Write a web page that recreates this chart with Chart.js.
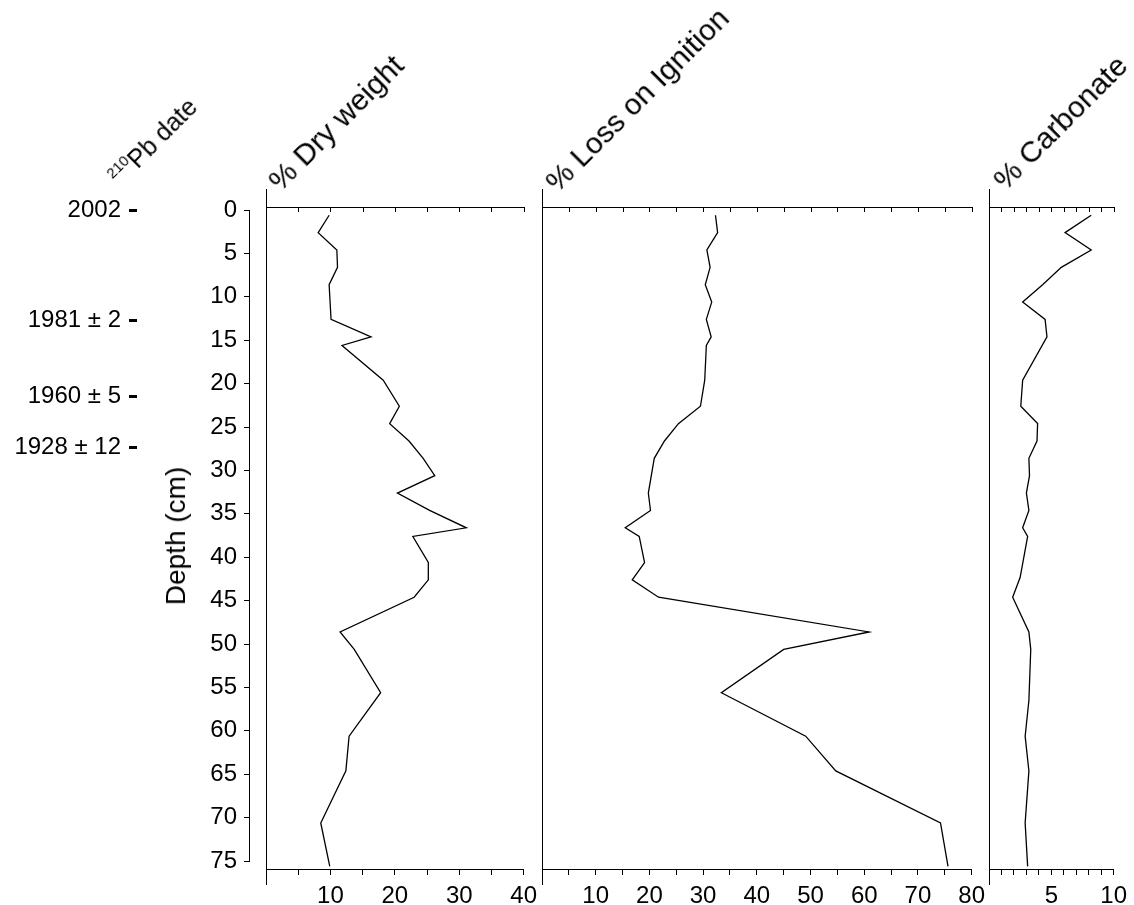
<!DOCTYPE html>
<html>
<head>
<meta charset="utf-8">
<script src="https://cdn.jsdelivr.net/npm/chart.js@4.4.1/dist/chart.umd.min.js"></script>
<style>
  body { margin: 0; width: 1134px; height: 905px; overflow: hidden; background: #fff; position: relative;
         font-family: "Liberation Sans", Arial, sans-serif; color: #000; }
  canvas { position: absolute; }
  .title { position: absolute; white-space: nowrap; font-size: 30px; line-height: 30px; height: 30px;
           transform-origin: 0 100%; transform: rotate(-45deg); }
  .sup { font-size: 15px; position: relative; top: -11px; }
  #depth-title { position: absolute; left: 176px; top: 536px; white-space: nowrap; font-size: 28px;
                 line-height: 28px; transform: translate(-50%, -50%) rotate(-90deg); }
</style>
</head>
<body>
<canvas id="chart-depth" width="260" height="720" style="left:0px;top:180px"></canvas>
<canvas id="chart-dry" width="308" height="726" style="left:236px;top:177px"></canvas>
<canvas id="chart-loi" width="480" height="726" style="left:512px;top:177px"></canvas>
<canvas id="chart-carb" width="175" height="726" style="left:959px;top:177px"></canvas>

<div class="title" style="left:123px;top:165px;font-size:25px;line-height:25px;height:25px"><span class="sup">210</span>Pb date</div>
<div class="title" style="left:284px;top:166px">% Dry weight</div>
<div class="title" style="left:561px;top:167px">% Loss on Ignition</div>
<div class="title" style="left:1009px;top:165px">% Carbonate</div>
<div id="depth-title">Depth (cm)</div>

<script>
// 210Pb dates, placed at their depth (cm)
const dateDepths = [0, 12.7, 21.5, 27.4];
const dateLabels = ["2002", "1981 ± 2", "1960 ± 5", "1928 ± 12"];

// % dry weight
const dryDepth = [0.6, 2.6, 4.6, 6.6, 8.6, 12.6, 14.6, 15.6, 19.6, 22.6, 24.6, 26.6, 28.6, 30.6,
  32.6, 34.6, 36.6, 37.6, 40.6, 42.6, 44.6, 48.6, 50.6, 55.6, 60.6, 64.6, 70.6, 75.6];
const dryWeight = [9.8, 8.1, 11.0, 11.1, 9.8, 10.1, 16.3, 11.8, 18.2, 20.7, 19.2, 22.2, 24.4, 26.2,
  20.4, 25.4, 31.1, 22.8, 25.2, 25.2, 23.0, 11.5, 13.7, 17.8, 12.9, 12.4, 8.5, 9.9];

// % loss on ignition
const loiDepth = [0.6, 2.6, 4.6, 6.6, 8.6, 10.6, 12.6, 14.6, 15.6, 19.6, 22.6, 24.6, 26.6, 28.6,
  32.6, 34.6, 36.6, 37.6, 40.6, 42.6, 44.6, 48.6, 50.6, 55.6, 60.6, 64.6, 70.6, 75.6];
const lossOnIgnition = [32.3, 32.7, 30.7, 31.3, 30.4, 31.6, 30.6, 31.5, 30.6, 30.3, 29.5, 25.4, 22.8, 20.9,
  19.8, 20.2, 15.5, 18.1, 19.1, 16.8, 21.7, 60.9, 45.0, 33.4, 49.1, 54.7, 74.2, 75.6];

// % carbonate
const carbDepth = [0.6, 2.6, 4.6, 6.6, 8.6, 10.6, 12.6, 14.6, 19.6, 22.6, 24.6, 26.6, 28.6, 30.6,
  32.6, 34.6, 36.6, 37.6, 42.3, 44.6, 48.6, 50.6, 56.5, 60.6, 64.6, 70.6, 75.6];
const carbonate = [8.2, 6.1, 8.2, 5.8, 4.3, 2.7, 4.5, 4.65, 2.7, 2.55, 3.9, 3.85, 3.2, 3.25,
  3.0, 3.2, 2.7, 3.1, 2.5, 1.9, 3.2, 3.35, 3.2, 2.9, 3.2, 2.9, 3.1];

Chart.defaults.font.family = "'Liberation Sans', Arial, sans-serif";
Chart.defaults.font.size = 24;
Chart.defaults.color = "#000";

// depth axis + dates on the left
new Chart(document.getElementById("chart-depth"), {
  type: "line",
  data: { datasets: [] },
  options: {
    responsive: false,
    animation: false,
    layout: { padding: { top: 30, bottom: 39, left: 0, right: 10 } },
    plugins: { legend: { display: false }, tooltip: { enabled: false } },
    scales: {
      x: { display: false },
      dates: {
        type: "linear", position: "left", reverse: true, min: 0, max: 75, weight: 1,
        afterFit: (s) => { s.width = 137; },
        afterBuildTicks: (s) => { s.ticks = dateDepths.map((v) => ({ value: v })); },
        ticks: { autoSkip: false, padding: 8, callback: (v, i) => dateLabels[i] },
        grid: { drawOnChartArea: false, tickLength: 8, tickWidth: 3, tickColor: "#000" },
        border: { display: false },
      },
      y: {
        type: "linear", position: "left", reverse: true, min: 0, max: 75, weight: 0,
        afterFit: (s) => { s.width = 112; },
        ticks: { stepSize: 5, autoSkip: false, padding: 7 },
        grid: { drawOnChartArea: false, tickLength: 5, tickColor: "#000" },
        border: { color: "#000", width: 1 },
      },
    },
  },
});

// left line running past the panel, top axis with inward ticks
const panelFrame = {
  id: "panelFrame",
  afterDraw(chart) {
    const { ctx, chartArea: a } = chart;
    const x = chart.scales.x;
    ctx.save();
    ctx.strokeStyle = "#000";
    ctx.lineWidth = 1;
    ctx.beginPath();
    ctx.moveTo(a.left + 0.5, a.top - 18);
    ctx.lineTo(a.left + 0.5, a.bottom + 16);
    ctx.moveTo(a.left, a.top + 0.5);
    ctx.lineTo(a.right + 1, a.top + 0.5);
    x.ticks.forEach((t) => {
      const px = Math.round(x.getPixelForValue(t.value)) + 0.5;
      ctx.moveTo(px, a.top);
      ctx.lineTo(px, a.top + 5);
    });
    ctx.stroke();
    ctx.restore();
  },
};

function makePanel(id, depths, values, xMax, step, labelEvery, padRight) {
  const points = depths.map((d, i) => ({ x: values[i], y: d }));
  return new Chart(document.getElementById(id), {
    type: "line",
    data: {
      datasets: [{ data: points, borderColor: "#000", borderWidth: 1.3, pointRadius: 0, tension: 0, fill: false }],
    },
    options: {
      responsive: false,
      animation: false,
      indexAxis: "y",
      layout: { padding: { left: 30, top: 30, right: padRight, bottom: 0 } },
      plugins: { legend: { display: false }, tooltip: { enabled: false } },
      scales: {
        x: {
          type: "linear", position: "bottom", min: 0, max: xMax,
          afterFit: (s) => { s.height = 34; },
          ticks: {
            stepSize: step, autoSkip: false, maxRotation: 0, padding: 7,
            callback: (v) => (v > 0 && v % labelEvery === 0 ? v : ""),
          },
          grid: { drawOnChartArea: false, tickLength: 6, tickColor: "#000" },
          border: { color: "#000", width: 1 },
        },
        y: { type: "linear", reverse: true, min: -0.35, max: 75.9, display: false },
      },
    },
    plugins: [panelFrame],
  });
}

makePanel("chart-dry", dryDepth, dryWeight, 40, 5, 10, 20);
makePanel("chart-loi", loiDepth, lossOnIgnition, 80, 5, 10, 20);
makePanel("chart-carb", carbDepth, carbonate, 10, 1, 5, 15);
</script>
</body>
</html>
